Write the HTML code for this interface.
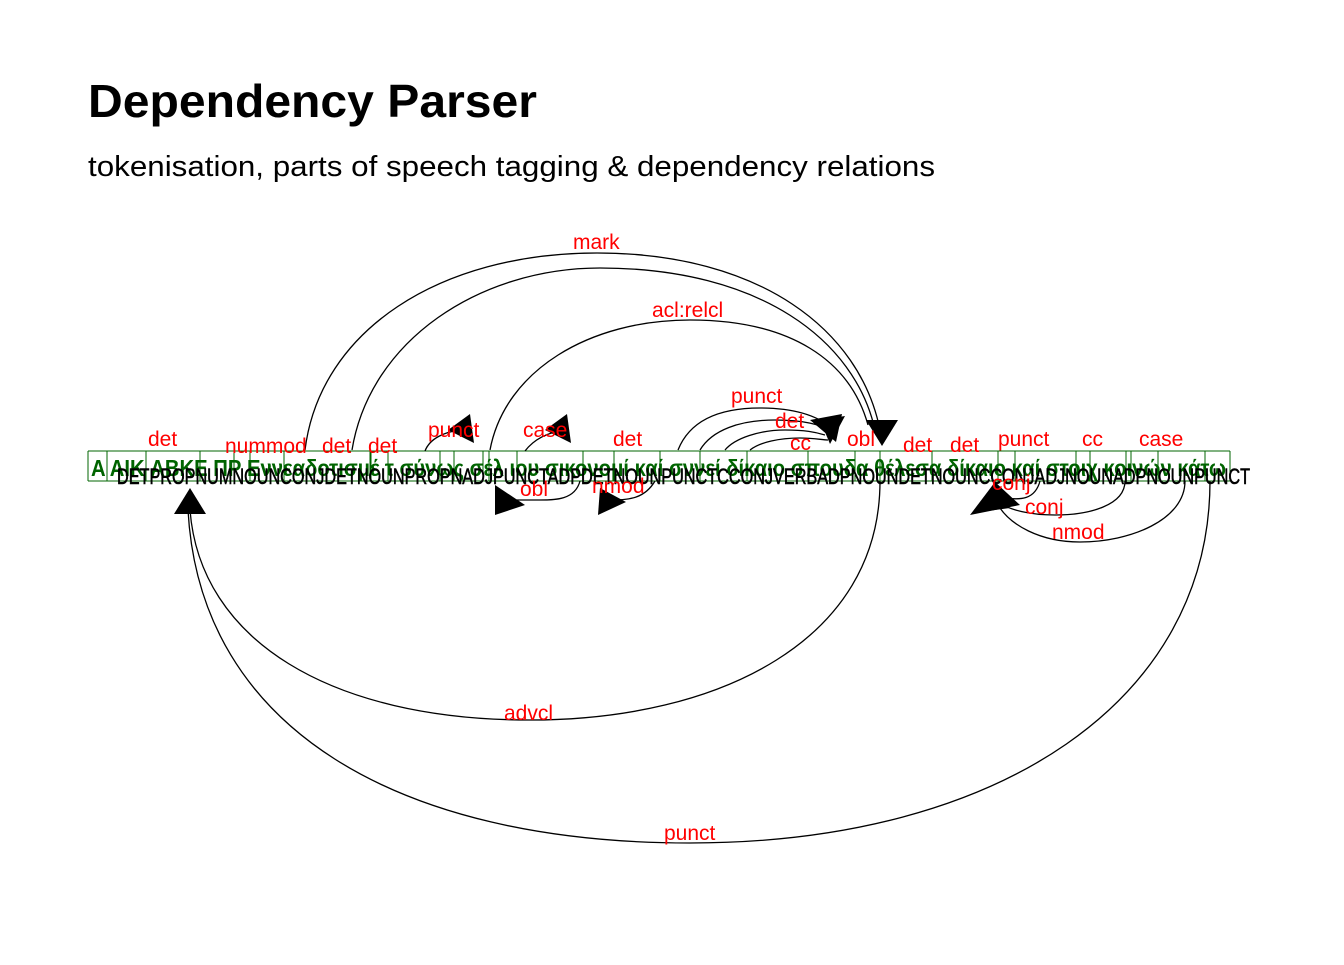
<!DOCTYPE html>
<html><head><meta charset="utf-8"><style>
body{margin:0;background:#fff;width:1344px;height:960px;overflow:hidden}
</style></head><body>
<svg width="1344" height="960" viewBox="0 0 1344 960" xmlns="http://www.w3.org/2000/svg" font-family="Liberation Sans, DejaVu Sans, sans-serif">
<text x="88" y="117" font-size="46" font-weight="bold" fill="#000" textLength="449" lengthAdjust="spacingAndGlyphs">Dependency Parser</text>
<text x="88" y="176" font-size="29" fill="#000" textLength="847" lengthAdjust="spacingAndGlyphs">tokenisation, parts of speech tagging &amp; dependency relations</text>

<g stroke="#006400" stroke-width="1" fill="none">
<line x1="88" y1="451" x2="1230" y2="451"/>
<line x1="88" y1="481" x2="1230" y2="481"/>
<line x1="88" y1="451" x2="88" y2="481"/><line x1="107" y1="451" x2="107" y2="481"/><line x1="146" y1="451" x2="146" y2="481"/><line x1="200" y1="451" x2="200" y2="481"/><line x1="234" y1="451" x2="234" y2="481"/><line x1="250" y1="451" x2="250" y2="481"/><line x1="284" y1="451" x2="284" y2="481"/><line x1="370" y1="451" x2="370" y2="481"/><line x1="371" y1="451" x2="371" y2="481"/><line x1="388" y1="451" x2="388" y2="481"/><line x1="440" y1="451" x2="440" y2="481"/><line x1="454" y1="451" x2="454" y2="481"/><line x1="483" y1="451" x2="483" y2="481"/><line x1="489" y1="451" x2="489" y2="481"/><line x1="517" y1="451" x2="517" y2="481"/><line x1="583" y1="451" x2="583" y2="481"/><line x1="614" y1="451" x2="614" y2="481"/><line x1="660" y1="451" x2="660" y2="481"/><line x1="700" y1="451" x2="700" y2="481"/><line x1="747" y1="451" x2="747" y2="481"/><line x1="808" y1="451" x2="808" y2="481"/><line x1="855" y1="451" x2="855" y2="481"/><line x1="880" y1="451" x2="880" y2="481"/><line x1="932" y1="451" x2="932" y2="481"/><line x1="998" y1="451" x2="998" y2="481"/><line x1="1015" y1="451" x2="1015" y2="481"/><line x1="1076" y1="451" x2="1076" y2="481"/><line x1="1090" y1="451" x2="1090" y2="481"/><line x1="1126" y1="451" x2="1126" y2="481"/><line x1="1131" y1="451" x2="1131" y2="481"/><line x1="1158" y1="451" x2="1158" y2="481"/><line x1="1205" y1="451" x2="1205" y2="481"/><line x1="1230" y1="451" x2="1230" y2="481"/>
</g>
<text x="91" y="476" font-size="23" font-weight="bold" fill="#006400" textLength="1135" lengthAdjust="spacingAndGlyphs">A AIK ΑΒΚΕ ΠΡ Εννεαδοτισμέ τ σύνως σέλ ιου σικονομί καί σννεί δίκαιο σπουδα θέλεσα δίκαιο καί στοιχ κοινών κάτω</text>
<text x="117" y="484" font-size="22" fill="#000" stroke="#000" stroke-width="0.6" textLength="1133" lengthAdjust="spacingAndGlyphs">DETPROPNUMNOUNCONJDETNOUNPROPNADJPUNCTADPDETNOUNPUNCTCCONJVERBADPNOUNDETNOUNCCONJADJNOUNADPNOUNPUNCT</text>

<g fill="none" stroke="#000" stroke-width="1.3">
<path d="M305,450 C320,330 440,253 597,253 C760,253 860,330 880,430"/>
<path d="M352,450 C370,340 480,268 600,268 C760,268 855,340 875,430"/>
<path d="M490,450 C505,370 590,320 690,320 C790,320 850,360 868,425"/>
<path d="M678,450 C690,420 720,408 760,408 C800,408 820,418 832,428"/>
<path d="M700,450 C712,430 740,420 775,420 C805,420 820,425 830,430"/>
<path d="M725,450 C735,438 760,430 785,430 C805,430 815,432 825,435"/>
<path d="M750,450 C760,442 780,438 800,438 C815,438 822,440 828,440"/>
<path d="M880,481 C880,640 720,720 530,720 C330,720 200,640 190,510"/>
<path d="M1210,481 C1210,700 1000,843 690,843 C400,843 200,730 188,510"/>
<path d="M1185,481 C1185,520 1130,542 1080,542 C1040,542 1010,525 998,505"/>
<path d="M1125,481 C1125,505 1090,515 1055,515 C1030,515 1010,510 1000,503"/>
<path d="M1040,481 C1035,500 1020,500 1005,498"/>
<path d="M580,481 C575,500 555,500 540,500 C520,500 510,500 503,500"/>
<path d="M655,481 C645,498 630,500 612,500"/>
<path d="M425,451 C430,438 445,432 460,430"/>
<path d="M525,451 C535,438 550,432 565,430"/>
</g>
<g fill="#000">
<polygon points="866,420 898,420 882,446"/>
<polygon points="810,420 842,414 836,442"/>
<polygon points="820,420 845,416 830,444"/>
<polygon points="174,514 206,514 190,488"/>
<polygon points="970,515 995,482 1020,505"/>
<polygon points="980,512 990,490 1010,508"/>
<polygon points="495,515 495,485 525,505"/>
<polygon points="598,515 600,488 626,502"/>
<polygon points="448,430 470,414 474,443"/>
<polygon points="545,430 567,414 571,443"/>
</g>

<g fill="#f00" font-size="21">
<text x="573" y="249">mark</text>
<text x="652" y="317">acl:relcl</text>
<text x="731" y="403">punct</text>
<text x="775" y="428">det</text>
<text x="790" y="450">cc</text>
<text x="847" y="446">obl</text>
<text x="148" y="446">det</text>
<text x="225" y="453">nummod</text>
<text x="322" y="453">det</text>
<text x="368" y="453">det</text>
<text x="428" y="437">punct</text>
<text x="523" y="437">case</text>
<text x="613" y="446">det</text>
<text x="520" y="496">obl</text>
<text x="592" y="493">nmod</text>
<text x="903" y="452">det</text>
<text x="950" y="452">det</text>
<text x="998" y="446">punct</text>
<text x="1082" y="446">cc</text>
<text x="1139" y="446">case</text>
<text x="992" y="490">conj</text>
<text x="1025" y="514">conj</text>
<text x="1052" y="539">nmod</text>
<text x="504" y="720">advcl</text>
<text x="664" y="840">punct</text>
</g>
</svg>
</body></html>
